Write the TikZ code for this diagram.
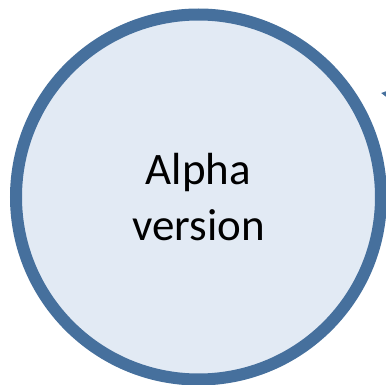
\documentclass[tikz,border=0pt]{standalone}
\usepackage{fontspec}
\setmainfont{Carlito}
\usetikzlibrary{arrows.meta}
\definecolor{ringblue}{HTML}{46709D}
\definecolor{fillblue}{HTML}{E2EAF4}
\tikzset{
  phase/.style={circle, draw=ringblue, fill=fillblue, line width=12pt,
    minimum size=365pt, inner sep=0pt, align=center,
    font=\fontsize{45pt}{56pt}\selectfont},
  flow/.style={draw=ringblue, line width=3pt, -{Triangle[length=10pt,width=10pt]}}
}
\begin{document}
\begin{tikzpicture}[x=1pt,y=-1pt]
\useasboundingbox (0,0) rectangle (386,385);
\clip (0,0) rectangle (386,385);
\node[phase] (alpha) at (198.5,197) {Alpha\\version};
\coordinate (src) at (420,99);
\coordinate (dst) at (381,93);
\draw[flow] (src) -- (dst);
\end{tikzpicture}
\end{document}
